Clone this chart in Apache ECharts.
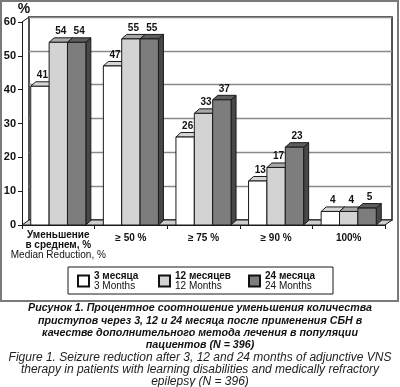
<!DOCTYPE html>
<html><head><meta charset="utf-8">
<script src="https://cdn.jsdelivr.net/npm/echarts@6/dist/echarts.min.js"></script>
<style>html,body{margin:0;padding:0;background:#fff}#c{width:400px;height:387px}</style>
</head><body><div id="c"></div>
<script>
// ---- data ----
const categories = ['Уменьшение в среднем, %', '≥ 50 %', '≥ 75 %', '≥ 90 %', '100%'];
const seriesNamesRu = ['3 месяца', '12 месяцев', '24 месяца'];
const seriesNamesEn = ['3 Months', '12 Months', '24 Months'];
const months3 = [41, 47, 26, 13, 4];
const months12 = [54, 55, 33, 17, 4];
const months24 = [54, 55, 37, 23, 5];
const yMin = 0, yMax = 60, yInterval = 10;
const captionRu = ['Рисунок 1. Процентное соотношение уменьшения количества',
  'приступов через 3, 12 и 24 месяца после применения СБН в',
  'качестве дополнительного метода лечения в популяции',
  'пациентов (N = 396)'];
const captionEn = ['Figure 1. Seizure reduction after 3, 12 and 24 months of adjunctive VNS',
  'therapy in patients with learning disabilities and medically refractory',
  'epilepsy (N = 396)'];

// ---- styles ----
const FONT = '"Liberation Sans", Arial, sans-serif';
const faceColors = [['#ffffff', '#d6d6d6', '#bdbdbd'], ['#d3d3d3', '#a8a8a8', '#8c8c8c'], ['#7d7d7d', '#5e5e5e', '#474747']];
const DX = 5, DY = 4.5;   // bar depth
const BX = 7, BY = 5;     // back wall offset
const G = {left: 22, right: 15, top: 22, bottom: 162};
const allData = [months3, months12, months24];

function renderBar(si) {
  return function (params, api) {
    const cat = api.value(0), val = api.value(1);
    const top = api.coord([cat, val]);
    const base = api.coord([cat, 0]);
    const bw = api.size([1, 0])[0];
    const w = bw * 0.253;
    const x0 = top[0] - 1.5 * w + si * w;
    const x1 = x0 + w;
    const yt = top[1], yb = base[1];
    const c = faceColors[si];
    const st = {stroke: '#1a1a1a', lineWidth: 1};
    return {type: 'group', children: [
      {type: 'polygon', shape: {points: [[x1, yb], [x1 + DX, yb - DY], [x1 + DX, yt - DY], [x1, yt]]}, style: Object.assign({fill: c[2]}, st)},
      {type: 'polygon', shape: {points: [[x0, yt], [x0 + DX, yt - DY], [x1 + DX, yt - DY], [x1, yt]]}, style: Object.assign({fill: c[1]}, st)},
      {type: 'rect', shape: {x: x0, y: yt, width: w, height: yb - yt}, style: Object.assign({fill: c[0]}, st)},
      {type: 'text', style: {text: String(val), x: (x0 + x1) / 2 + DX / 2, y: yt - DY - 1.5, textAlign: 'center', textVerticalAlign: 'bottom', font: 'bold 10px ' + FONT, fill: '#111'}}
    ]};
  };
}

const legendWidths = [54, 63, 55];
const rich = {};
seriesNamesRu.forEach((n, i) => {
  rich['r' + i] = {fontWeight: 'bold', fontSize: 10, lineHeight: 10, width: legendWidths[i], color: '#111', fontFamily: FONT};
  rich['e' + i] = {fontSize: 10, lineHeight: 10, width: legendWidths[i], color: '#111', fontFamily: FONT};
});

const chart = echarts.init(document.getElementById('c'), null, {renderer: 'canvas'});
chart.setOption({
  animation: false,
  backgroundColor: '#fff',
  grid: [
    Object.assign({containLabel: false}, G),
    {left: G.left + BX, right: G.right - BX, top: G.top - BY, bottom: G.bottom + BY, show: true, backgroundColor: '#fff', borderColor: '#1a1a1a', borderWidth: 1.5, z: -1}
  ],
  xAxis: [
    {type: 'category', gridIndex: 0, data: categories,
      axisLine: {show: true, lineStyle: {color: '#1a1a1a', width: 1}},
      axisTick: {show: true, length: 4, interval: 0, lineStyle: {color: '#1a1a1a'}},
      axisLabel: {interval: 0, margin: 5, fontFamily: FONT,
        formatter: function (v, i) {
          if (i === 0) return '{b|Уменьшение}\n{b|в среднем, %}\n{n|Median Reduction, %}';
          return '{c|' + v + '}';
        },
        rich: {
          b: {fontWeight: 'bold', fontSize: 10, lineHeight: 10, color: '#111', fontFamily: FONT},
          n: {fontSize: 10, lineHeight: 10, color: '#111', fontFamily: FONT},
          c: {fontWeight: 'bold', fontSize: 10, lineHeight: 16, color: '#111', fontFamily: FONT}
        }}},
    {type: 'category', gridIndex: 1, data: categories, axisLine: {show: false}, axisTick: {show: false}, axisLabel: {show: false}}
  ],
  yAxis: [
    {type: 'value', gridIndex: 0, min: yMin, max: yMax, interval: yInterval,
      name: '%', nameLocation: 'end', nameGap: 6,
      nameTextStyle: {fontWeight: 'bold', fontSize: 14, color: '#111', fontFamily: FONT, padding: [0, 0, 0, 4]},
      axisLine: {show: true, lineStyle: {color: '#1a1a1a', width: 1}},
      axisTick: {show: true, length: 4, lineStyle: {color: '#1a1a1a'}},
      axisLabel: {margin: 6, fontWeight: 'bold', fontSize: 11, color: '#111', fontFamily: FONT},
      splitLine: {show: false}},
    {type: 'value', gridIndex: 1, min: yMin, max: yMax, interval: yInterval,
      axisLine: {show: false}, axisTick: {show: false}, axisLabel: {show: false},
      splitLine: {show: true, lineStyle: {color: '#8a8a8a', width: 1.3}}}
  ],
  legend: {
    left: 68, top: 267, orient: 'horizontal', selectedMode: false,
    itemWidth: 11, itemHeight: 11, itemGap: 10,
    padding: [4, 13, 3, 9], borderColor: '#1a1a1a', borderWidth: 1,
    data: seriesNamesRu.map((n, i) => ({name: n, icon: 'rect', itemStyle: {color: faceColors[i][0], borderColor: '#111', borderWidth: 2}})),
    formatter: function (name) {
      const i = seriesNamesRu.indexOf(name);
      return '{r' + i + '|' + name + '}\n{e' + i + '|' + seriesNamesEn[i] + '}';
    },
    textStyle: {rich: rich, fontFamily: FONT}
  },
  series: allData.map((d, si) => ({
    type: 'custom', name: seriesNamesRu[si], xAxisIndex: 0, yAxisIndex: 0,
    itemStyle: {color: faceColors[si][0]},
    renderItem: renderBar(si),
    data: d.map((v, i) => [i, v])
  }))
});

// decorations computed from the axes
const cx = i => chart.convertToPixel({xAxisIndex: 0}, i);
const cy = v => chart.convertToPixel({yAxisIndex: 0}, v);
const bwPix = cx(1) - cx(0);
const xl = cx(0) - bwPix / 2, xr = cx(categories.length - 1) + bwPix / 2;
const y0 = cy(yMin), yT = cy(yMax);
chart.setOption({
  graphic: [
    {type: 'polygon', z: 1, shape: {points: [[xl, y0], [xr, y0], [xr + BX, y0 - BY], [xl + BX, y0 - BY]]}, style: {fill: '#cfcfcf', stroke: '#1a1a1a', lineWidth: 1}},
    {type: 'polyline', z: 1, shape: {points: [[xl, yT], [xl + BX, yT - BY]]}, style: {stroke: '#1a1a1a', lineWidth: 1}},
    {type: 'rect', z: 10, shape: {x: 1, y: 1, width: 397, height: 300}, style: {fill: 'none', stroke: '#7a7a7a', lineWidth: 2}},
    {type: 'text', z: 10, x: 200, y: 302, style: {text: captionRu.join('\n'), font: 'italic bold 10.7px ' + FONT, textAlign: 'center', textVerticalAlign: 'top', lineHeight: 12.4, fill: '#111'}},
    {type: 'text', z: 10, x: 200, y: 351, style: {text: captionEn.join('\n'), font: 'italic 12px ' + FONT, textAlign: 'center', textVerticalAlign: 'top', lineHeight: 12.4, fill: '#222'}}
  ]
});
</script></body></html>
